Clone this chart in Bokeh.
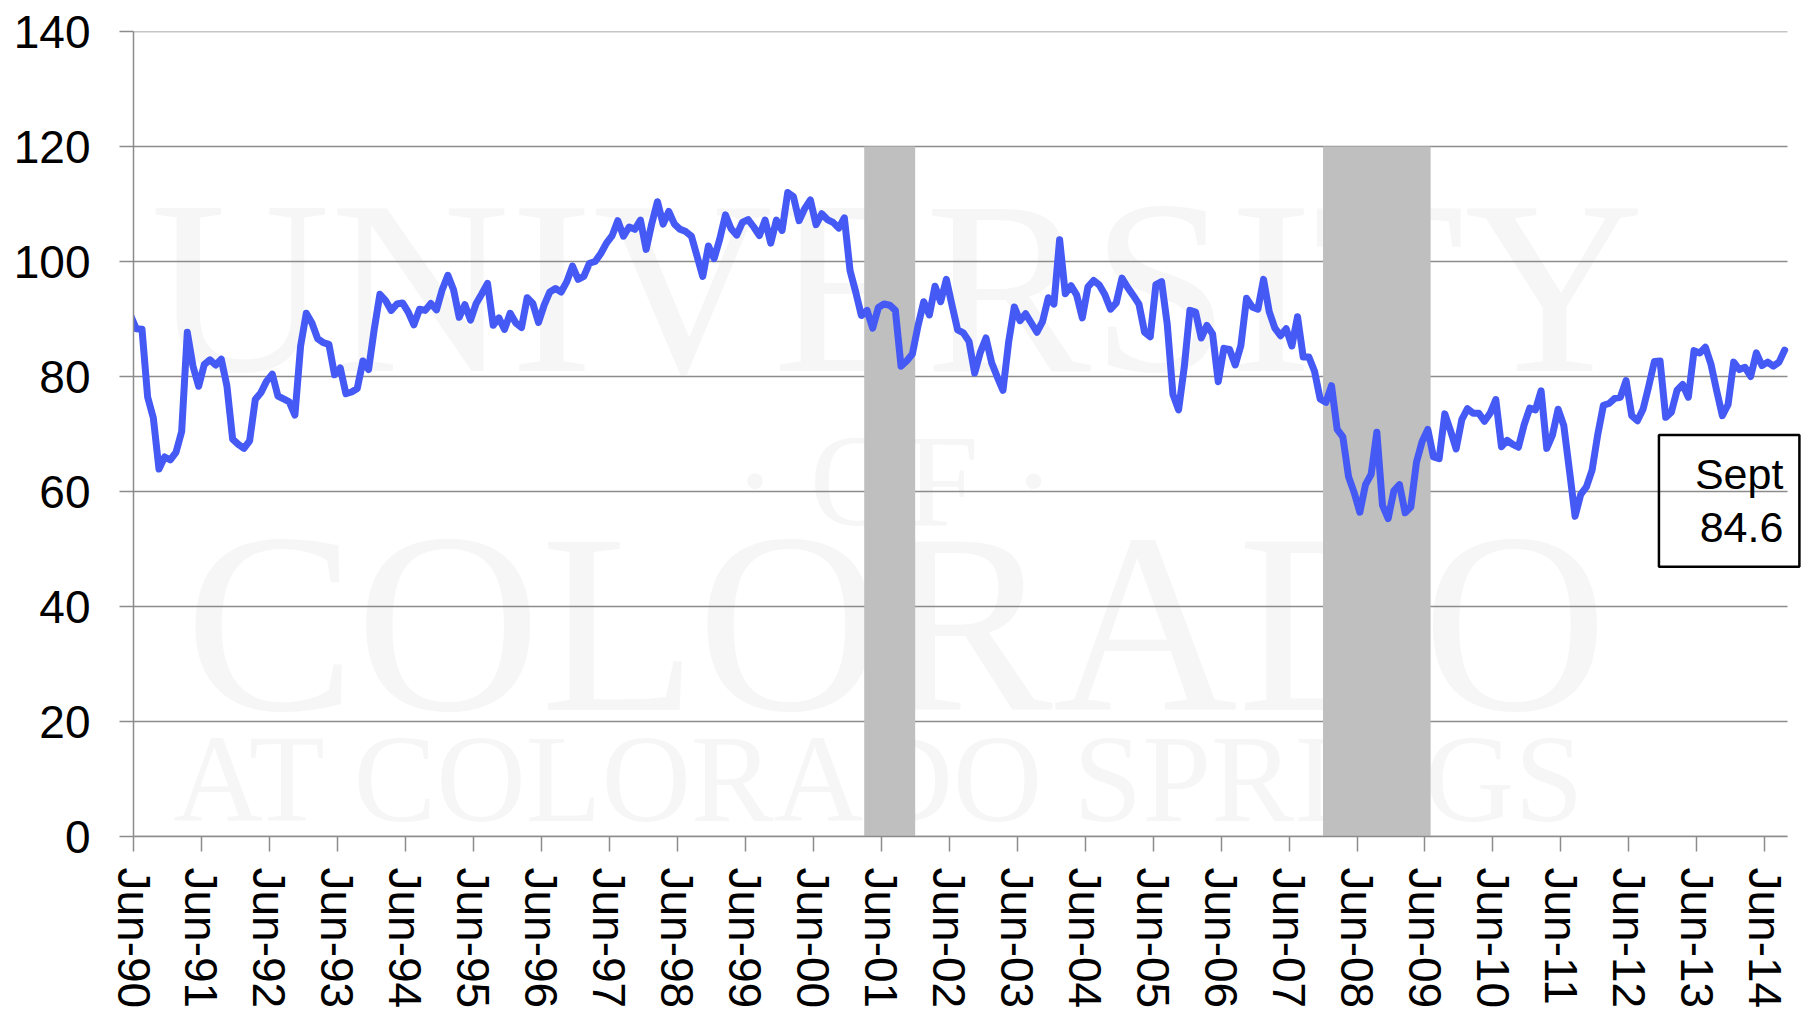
from bokeh.plotting import figure
from bokeh.models import Range1d, FixedTicker, Label, ColumnDataSource
from bokeh.embed import file_html
from bokeh.resources import INLINE

# ---------------- data ----------------
start_year, start_month = 1990, 5   # first value is May 1990
values_1990 = [90.6, 88.3, 88.2, 76.4, 72.8, 63.9, 66.0, 65.5]
values_1991 = [66.8, 70.4, 87.7, 81.8, 78.3, 82.1, 82.9, 82.0, 83.0, 78.3, 69.1, 68.2]
values_1992 = [67.5, 68.8, 76.0, 77.2, 79.2, 80.4, 76.6, 76.1, 75.6, 73.3, 85.3, 91.0]
values_1993 = [89.3, 86.6, 85.9, 85.6, 80.3, 81.5, 77.0, 77.3, 77.9, 82.7, 81.2, 88.2]
values_1994 = [94.3, 93.2, 91.5, 92.6, 92.8, 91.2, 89.0, 91.7, 91.5, 92.7, 91.6, 95.1]
values_1995 = [97.6, 95.1, 90.3, 92.5, 89.8, 92.7, 94.4, 96.2, 88.9, 90.2, 88.2, 91.0]
values_1996 = [89.3, 88.5, 93.7, 92.7, 89.4, 92.4, 94.7, 95.3, 94.7, 96.5, 99.2, 96.9]
values_1997 = [97.4, 99.7, 100.0, 101.4, 103.2, 104.5, 107.1, 104.4, 106.0, 105.6, 107.2, 102.1]
values_1998 = [106.6, 110.4, 106.5, 108.7, 106.5, 105.6, 105.2, 104.4, 100.9, 97.4, 102.7, 100.5]
values_1999 = [103.9, 108.1, 105.7, 104.6, 106.8, 107.3, 106.0, 104.5, 107.2, 103.2, 107.2, 105.4]
values_2000 = [112.0, 111.3, 107.1, 109.2, 110.7, 106.4, 108.3, 107.3, 106.8, 105.8, 107.6, 98.4]
values_2001 = [94.7, 90.6, 91.5, 88.4, 92.0, 92.6, 92.4, 91.5, 81.8, 82.7, 83.9, 88.8]
values_2002 = [93.0, 90.7, 95.7, 93.0, 96.9, 92.4, 88.1, 87.6, 86.1, 80.6, 84.2, 86.7]
values_2003 = [82.4, 79.9, 77.6, 86.0, 92.1, 89.7, 90.9, 89.3, 87.7, 89.6, 93.7, 92.6]
values_2004 = [103.8, 94.4, 95.8, 94.2, 90.2, 95.6, 96.7, 95.9, 94.2, 91.7, 92.8, 97.1]
values_2005 = [95.5, 94.1, 92.6, 87.7, 86.9, 96.0, 96.5, 89.1, 76.9, 74.2, 81.6, 91.5]
values_2006 = [91.2, 86.7, 88.9, 87.4, 79.1, 84.9, 84.7, 82.0, 85.4, 93.6, 92.1, 91.7]
values_2007 = [96.9, 91.3, 88.4, 87.1, 88.3, 85.3, 90.4, 83.4, 83.4, 80.9, 76.1, 75.5]
values_2008 = [78.4, 70.8, 69.5, 62.6, 59.8, 56.4, 61.2, 63.0, 70.3, 57.6, 55.3, 60.1]
values_2009 = [61.2, 56.3, 57.3, 65.1, 68.7, 70.8, 66.0, 65.7, 73.5, 70.6, 67.4, 72.5]
values_2010 = [74.4, 73.6, 73.6, 72.2, 73.6, 76.0, 67.8, 68.9, 68.2, 67.7, 71.6, 74.5]
values_2011 = [74.2, 77.5, 67.5, 69.8, 74.3, 71.5, 63.7, 55.7, 59.5, 60.8, 63.7, 69.9]
values_2012 = [75.0, 75.3, 76.2, 76.4, 79.3, 73.2, 72.3, 74.3, 78.3, 82.6, 82.7, 72.9]
values_2013 = [73.8, 77.6, 78.6, 76.4, 84.5, 84.1, 85.1, 82.1, 77.5, 73.2, 75.1, 82.5]
values_2014 = [81.2, 81.6, 80.0, 84.1, 81.9, 82.5, 81.8, 82.5, 84.6]

recession_starts = ["2001-03", "2007-12"]
recession_ends = ["2001-11", "2009-06"]

tick_years = list(range(1990, 2015))
tick_labels = ["Jun-%02d" % (y % 100) for y in tick_years]

y_ticks = [0, 20, 40, 60, 80, 100, 120, 140]

annotation_month = "Sept"
watermark_lines = ["UNIVERSITY", "\u00b7 OF \u00b7", "COLORADO", "AT COLORADO SPRINGS"]

# ---------------- derived ----------------
values = (values_1990 + values_1991 + values_1992 + values_1993 + values_1994 +
          values_1995 + values_1996 + values_1997 + values_1998 + values_1999 +
          values_2000 + values_2001 + values_2002 + values_2003 + values_2004 +
          values_2005 + values_2006 + values_2007 + values_2008 + values_2009 +
          values_2010 + values_2011 + values_2012 + values_2013 + values_2014)


def month_offset(year, month):
    # months since 1 June 1990
    return (year - 1990) * 12 + (month - 6)


xs = []
for k in range(len(values)):
    m = start_month - 1 + k
    yr = start_year + m // 12
    mo = m % 12 + 1
    xs.append(month_offset(yr, mo) + 0.5)   # plotted mid-month

src = ColumnDataSource(data=dict(x=xs, y=values))

rec_left = [month_offset(int(s[:4]), int(s[5:])) for s in recession_starts]
rec_right = [month_offset(int(e[:4]), int(e[5:])) + 1 for e in recession_ends]

tick_pos = [month_offset(y, 6) for y in tick_years]
axis_end = month_offset(2014, 10)          # axis runs to 1 Oct 2014

# ---------------- figure ----------------
GRAY = "#8c8c8c"
FONT = "Liberation Sans"

W, H = 1802, 1012
LEFT, RIGHT_AXIS_PX = 133, 1787            # pixel extent of the axis line
frame_w = W - LEFT
x_end = axis_end * frame_w / (RIGHT_AXIS_PX - LEFT)   # frame runs a bit past the axis

p = figure(width=W, height=H, output_backend="svg", toolbar_location=None,
           x_range=Range1d(0, x_end), y_range=Range1d(0, 140),
           min_border_left=LEFT, min_border_right=0, min_border_top=31,
           min_border_bottom=176)
p.outline_line_color = None
p.background_fill_color = "white"
p.border_fill_color = "white"

# watermark (behind everything)
wm_specs = [
    (3.0, 95.6, 249, "left"),
    (134.3, 61.9, 132, "center"),
    (9.1, 37.1, 256, "left"),
    (7.0, 10.0, 124, "left"),
]
for txt, (wx, wy, fs, al) in zip(watermark_lines, wm_specs):
    p.add_layout(Label(x=wx, y=wy, text=txt, text_font="Liberation Serif",
                       text_font_size="%dpx" % fs, text_color="#f6f6f6",
                       text_align=al, text_baseline="alphabetic", level="image"))

# horizontal gridlines, limited to the axis extent
p.xgrid.grid_line_color = None
p.ygrid.grid_line_color = None
p.segment(x0=[0] * len(y_ticks), x1=[axis_end] * len(y_ticks), y0=y_ticks, y1=y_ticks,
          line_color=GRAY, line_width=1.5, level="underlay")

# recession shading
p.quad(left=rec_left, right=rec_right, bottom=[0] * len(rec_left), top=[120] * len(rec_left),
       fill_color="#bfbfbf", line_color=None)

# series
p.line("x", "y", source=src, line_color="#4559f5", line_width=7,
       line_join="round", line_cap="round")

# axes
p.yaxis.ticker = FixedTicker(ticks=y_ticks, minor_ticks=[])
p.xaxis.ticker = FixedTicker(ticks=tick_pos, minor_ticks=[])
p.xaxis.major_label_overrides = {t: l for t, l in zip(tick_pos, tick_labels)}
p.xaxis.major_label_orientation = "vertical"
p.xaxis.bounds = (0, axis_end)

for ax in (p.xaxis[0], p.yaxis[0]):
    ax.axis_line_color = GRAY
    ax.axis_line_width = 1.5
    ax.major_tick_line_color = GRAY
    ax.major_tick_line_width = 1.5
    ax.major_tick_in = 0
    ax.minor_tick_line_color = None
    ax.major_label_text_font = FONT
    ax.major_label_text_font_size = "46px"
    ax.major_label_text_color = "black"

p.xaxis.major_tick_out = 15
p.xaxis.major_label_standoff = 16
p.yaxis.major_tick_out = 14
p.yaxis.major_label_standoff = 29

# annotation: boxed last value (anchor = outer bottom-right corner of the box)
p.add_layout(Label(x=294.1, y=46.9, text="%s\n%.1f" % (annotation_month, values[-1]),
                   text_font=FONT, text_font_size="43px", text_color="black",
                   text_align="right", text_baseline="bottom", text_line_height=1.1,
                   border_line_color="black", border_line_width=2.5,
                   background_fill_color=None,
                   padding=dict(left=36, right=16, top=15, bottom=16)))

open("out.html", "w").write(file_html(p, INLINE))
